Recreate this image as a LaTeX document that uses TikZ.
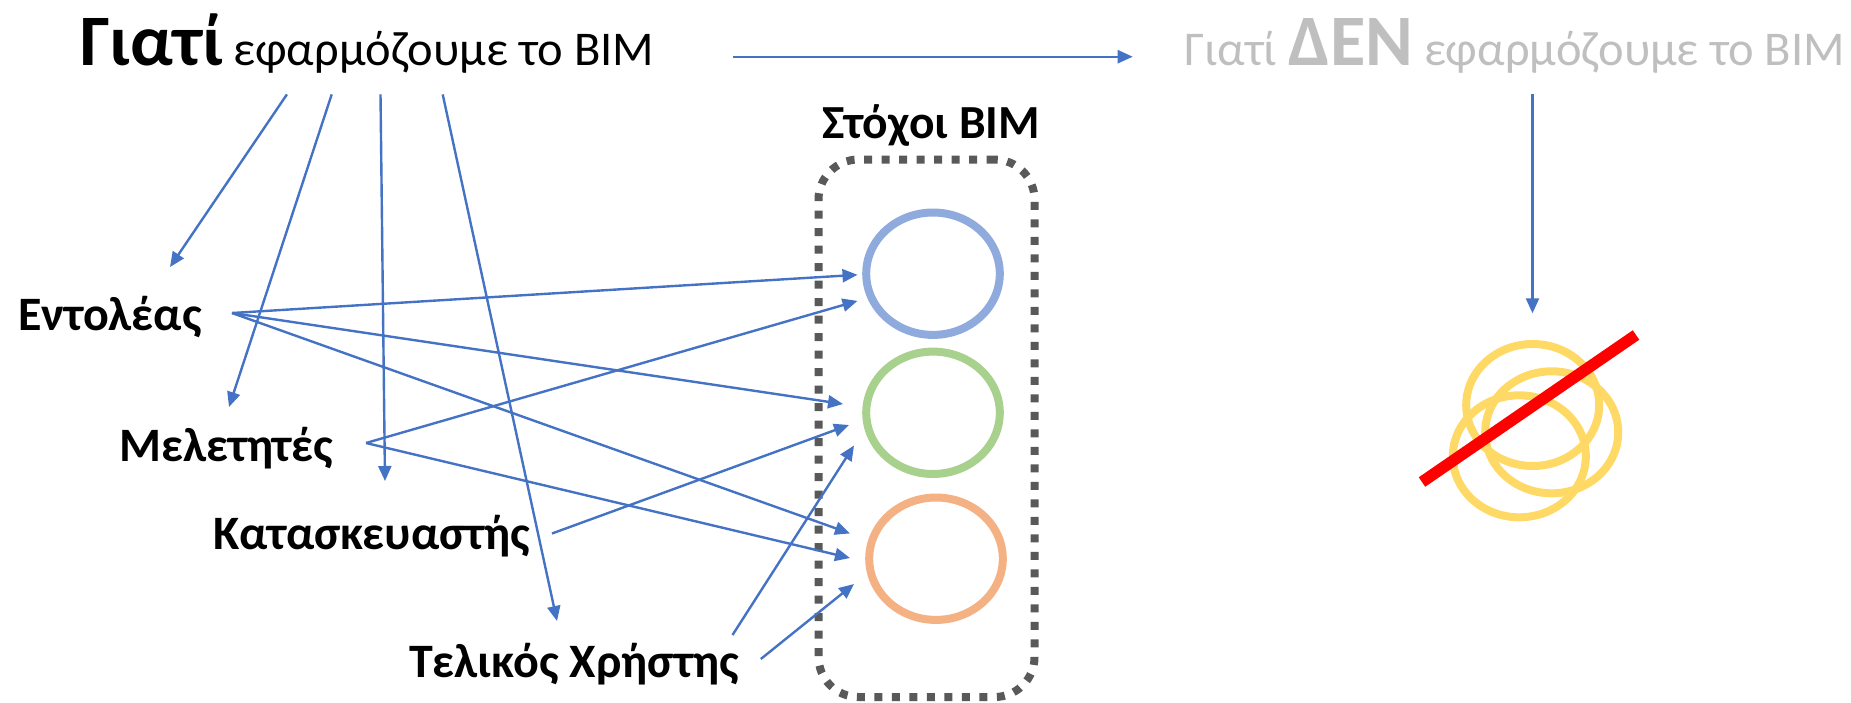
\documentclass[tikz,border=0pt]{standalone}
\usepackage{fontspec}
\setmainfont{Carlito}
\usetikzlibrary{arrows.meta,shapes.geometric}
\definecolor{arrowblue}{HTML}{4472C4}
\definecolor{goalblue}{HTML}{8FAADC}
\definecolor{goalgreen}{HTML}{A9D18E}
\definecolor{goalorange}{HTML}{F4B183}
\definecolor{coinyellow}{HTML}{FFD966}
\definecolor{boxgray}{HTML}{595959}
\definecolor{fadegray}{HTML}{BFBFBF}
\begin{document}
\begin{tikzpicture}[x=1pt,y=-1pt,
  conn/.style={draw=arrowblue,line width=2.4pt,-{Triangle[length=15pt,width=13pt]}},
  label/.style={anchor=base west,inner sep=0pt,font=\fontsize{48}{58}\selectfont\bfseries},
  goal/.style={ellipse,draw=#1,line width=8pt,minimum width=133.6pt,minimum height=122.4pt,inner sep=0pt},
  coin/.style={ellipse,draw=coinyellow,line width=8pt,minimum width=133pt,minimum height=122pt,inner sep=0pt}]
\useasboundingbox (0,0) rectangle (1851,702);

% titles
\node[anchor=base west,inner sep=0pt,font=\fontsize{48.5}{58}\selectfont] (why) at (80,65)
  {{\fontsize{72.5}{86}\selectfont\bfseries Γιατί} εφαρμόζουμε το BIM};
\node[anchor=base west,inner sep=0pt,text=fadegray,font=\fontsize{48.5}{58}\selectfont] (whynot) at (1184,65)
  {Γιατί {\fontsize{72.5}{86}\selectfont\bfseries ΔΕΝ} εφαρμόζουμε το BIM};

% stakeholder labels
\node[label] (ent) at (18,330) {Εντολέας};
\node[label] (mel) at (119,461) {Μελετητές};
\node[label] (kat) at (213,549) {Κατασκευαστής};
\node[label] (tel) at (409,677) {Τελικός Χρήστης};

% goals box
\node[anchor=base,inner sep=0pt,font=\fontsize{47.5}{56}\selectfont\bfseries] (goalt) at (931,138) {Στόχοι BIM};
\node[draw=boxgray,line width=8pt,dash pattern=on 8pt off 9.5pt,rounded corners=40pt,
  minimum width=216pt,minimum height=537.5pt,inner sep=0pt] (box) at (926.5,428.25) {};
\node[goal=goalblue] (g1) at (933,273.7) {};
\node[goal=goalgreen] (g2) at (933,412.8) {};
\node[goal=goalorange] (g3) at (936,558.7) {};

% not-applied side
\node[coin] (c2) at (1519.3,456.3) {};
\node[coin] (c3) at (1551.7,432.3) {};
\node[coin] (c1) at (1532.7,405) {};
\coordinate (slashA) at (1422,482);
\coordinate (slashB) at (1636,335);
\draw[red,line width=11.5pt] (slashA) -- (slashB);

% coordinates for connector ends
\coordinate (whyR) at (732.7,56.7);
\coordinate (whynotL) at (1132.7,56.7);
\coordinate (w1) at (286.9,94.4);
\coordinate (w2) at (331.7,94.4);
\coordinate (w3) at (380.5,94.4);
\coordinate (w4) at (442.7,94.4);
\coordinate (entT) at (170,267);
\coordinate (melT) at (229,407);
\coordinate (katT) at (385,481);
\coordinate (telT) at (557,621);
\coordinate (entS) at (232,313);
\coordinate (melS) at (366,443);
\coordinate (katS) at (552,533.5);
\coordinate (telS1) at (732.5,635);
\coordinate (telS2) at (760.8,659);
\coordinate (g1a) at (857.5,274.8);
\coordinate (g1b) at (857.5,300.9);
\coordinate (g2a) at (843,404);
\coordinate (g2b) at (849,425);
\coordinate (g2c) at (854,445.5);
\coordinate (g3a) at (850,533.4);
\coordinate (g3b) at (850,558);
\coordinate (g3c) at (854,584);
\coordinate (nS) at (1532.5,94.4);
\coordinate (nT) at (1532.5,313.3);

\draw[conn] (whyR) -- (whynotL);
\draw[conn] (w1) -- (entT);
\draw[conn] (w2) -- (melT);
\draw[conn] (w3) -- (katT);
\draw[conn] (w4) -- (telT);
\draw[conn] (entS) -- (g1a);
\draw[conn] (entS) -- (g2a);
\draw[conn] (entS) -- (g3a);
\draw[conn] (melS) -- (g1b);
\draw[conn] (melS) -- (g3b);
\draw[conn] (katS) -- (g2b);
\draw[conn] (telS1) -- (g2c);
\draw[conn] (telS2) -- (g3c);
\draw[conn] (nS) -- (nT);
\end{tikzpicture}
\end{document}
